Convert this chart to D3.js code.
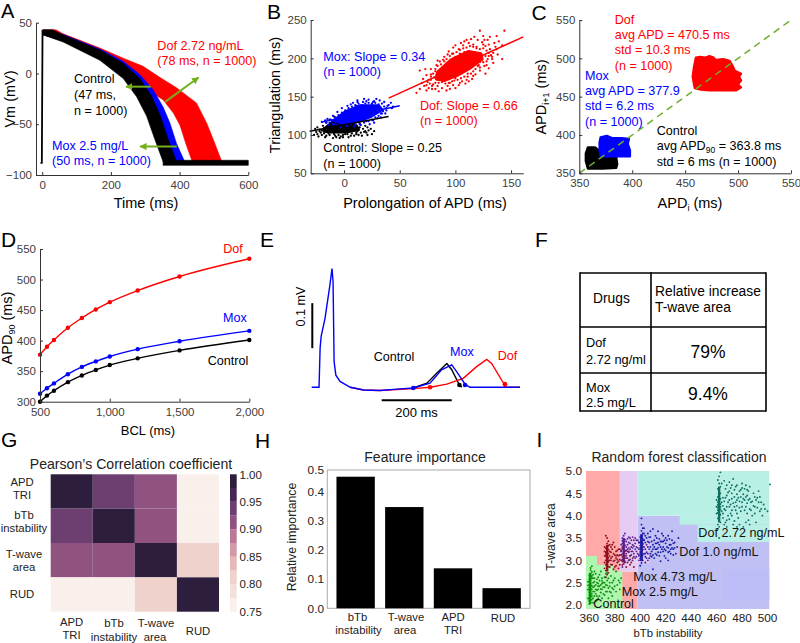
<!DOCTYPE html>
<html><head><meta charset="utf-8">
<script src="https://cdn.jsdelivr.net/npm/d3@7/dist/d3.min.js"></script>
<style>html,body{margin:0;padding:0;background:#fff}svg{display:block}text{font-family:"Liberation Sans",Arial,sans-serif}</style>
</head><body><svg id="c" width="800" height="643"></svg>
<script>
// ---------- Panel A (band edges: ms, mV)
const aDofUpper=[[3,43],[40,43],[61,39],[168,25],[236,15],[294,7],[343,-4],[391,-14],[449,-29],[479,-49],[498,-65],[523,-87]];
const aDofLower=[[438,-88],[420,-71],[401,-51],[382,-39],[352,-26],[300,-15],[200,10],[61,34],[3,38]];
const aMoxUpper=[[3,43],[61,38.5],[168,24],[236,12],[284,-1],[323,-16],[352,-33],[372,-49],[391,-69],[415,-87]];
const aMoxLower=[[370,-87],[352,-60],[323,-40],[284,-20],[236,0],[168,15],[61,32],[3,38]];
const aCtlUpper=[[3,43],[30,43],[61,38],[168,23],[236,10],[284,-5],[318,-22],[343,-41],[367,-65],[389,-85]];
const aCtlLower=[[352,-87],[328,-65],[304,-42],[275,-23],[236,-5],[168,13],[61,31],[3,38]];
const aBaseline=[[352,-85.5],[600,-85.5],[600,-90.5],[352,-90.5]];
const aUpstroke=[[-5,-88],[-1,-88],[1,43]];
const aArrows=[[316,-13,244,-13],[358,-28,455,-4],[392,-72,285,-72]];
// ---------- Panel B (prolongation ms, triangulation ms)
const bDofCore=[[84,182],[96,198],[112,209],[123,206],[124,199],[113,187],[102,178],[90,171],[83,173]];
const bMoxCore=[[-9,119],[1,130],[14,138],[31,138],[34,133],[24,124],[11,117],[-3,116]];
const bCtlCore=[[-18,108],[-9,118],[-1,117],[11,112],[13,107],[2,104],[-12,104],[-18,105]];
const bDofPts=[[144,236],[122,236],[114,225],[125,229],[131,228],[137,229],[129,224],[135,220],[142,217],[142,199],[134,194],[127,180],[130,187],[115,173],[109,167],[103,165],[95,160],[82,160],[76,161],[72,164],[65,155],[68,184],[73,186],[86,196],[94,209],[98,214],[107,217],[112,220],[119,215],[124,221],[127,216],[131,212],[134,207],[130,203],[124,198],[121,191],[118,179],[111,176],[106,170],[99,171],[93,164],[88,161],[84,164],[79,164],[76,172],[78,179],[83,191],[90,202],[97,206],[103,212],[110,224],[116,218],[121,206],[133,199],[138,205],[126,190],[122,184],[112,170],[100,161],[91,172],[71,173],[74,178],[81,175],[95,168],[105,180],[118,207],[128,196],[137,212],
 [78,176],[80,180],[82,186],[84,190],[87,192],[90,196],[92,199],[95,203],[98,206],[101,208],[104,211],[107,213],[110,214],[113,216],[116,215],[119,213],[122,212],[125,213],[128,210],[130,207],[132,204],[129,199],[127,203],[125,195],[122,195],[120,190],[118,186],[116,183],[114,180],[111,180],[108,176],[105,174],[102,172],[100,174],[97,170],[94,168],[91,167],[88,169],[85,168],[82,168],[80,166],[77,167],[75,169],[78,172],[83,178],[86,182],[89,187],[92,191],[96,197],[100,202],[104,206],[108,208],[112,209],[116,207],[120,203],[123,201],[84,172],[87,176],[92,178],[96,182],[100,186],[104,190],[108,194],[74,165],[79,160],[85,157],[92,158],[98,165],[104,168],[110,172],[116,177],[122,188],[128,191],[133,202],[136,215],[126,224],[120,224],[105,220],[100,217],[93,205],[89,198],[84,197],[78,186],[70,168],[74,158],[68,160],[82,183],[108,222],[117,228],[130,218],[139,222],[125,218]];
const bMoxPts=[[-20,117],[-15,121],[-10,125],[-6,130],[-2,135],[3,138],[8,142],[12,145],[17,143],[22,146],[27,144],[32,145],[36,143],[39,138],[42,142],[38,132],[34,128],[30,122],[26,119],[20,118],[15,113],[9,111],[3,112],[-3,110],[-9,114],[-14,113],[6,140],[25,139],[43,135],[29,147],[18,147],[11,138],[-17,119],[-8,120],
 [-16,116],[-12,120],[-8,123],[-5,126],[-2,129],[1,132],[4,135],[7,137],[10,139],[13,141],[16,139],[19,141],[22,142],[25,141],[28,142],[31,140],[34,141],[36,137],[38,135],[35,131],[33,128],[31,125],[28,123],[25,120],[22,118],[18,116],[14,114],[10,113],[6,114],[2,112],[-2,113],[-6,113],[-10,114],[-13,116],[3,128],[5,132],[24,135],[29,131],[-4,120],[-1,124],[9,133],[15,136],[30,137],[40,139],[44,137],[37,128],[33,123],[27,116],[23,114],[-7,117],[-11,118],[12,143],[20,144],[26,143]];
const bCtlPts=[[-24,101],[-22,107],[-19,112],[-16,116],[-13,120],[-9,124],[-5,122],[-1,122],[4,118],[9,116],[14,115],[19,112],[18,104],[22,106],[25,101],[21,100],[16,99],[11,101],[6,99],[1,101],[-3,98],[-8,99],[-13,100],[-17,97],[-10,96],[-21,103],[-26,108],[-18,105],[27,105],[12,105],[-4,96],[-24,110],
 [-20,106],[-18,109],[-15,112],[-12,115],[-9,118],[-6,120],[-3,118],[0,117],[3,115],[6,112],[10,111],[14,110],[17,108],[19,105],[15,103],[11,103],[7,102],[3,101],[-1,100],[-5,100],[-9,101],[-14,102],[-18,102],[-22,105],[-20,100],[-23,98],[-16,99],[-7,97],[-1,97],[4,97],[9,99],[13,100],[20,103],[24,108],[21,110],[-25,104],[-27,100]];
const bLines=[{x0:40,y0:148,x1:161,y1:228,c:"#ff0000"},{x0:-20,y0:117,x1:50,y1:138,c:"#0000ff"},{x0:-31,y0:105,x1:40,y1:124,c:"#000000"}];
// ---------- Panel C (APDi, APDi+1 ms)
const cDofBlob=[[460,501],[464,502],[469,501],[473,503],[477,501],[479,498],[486,499],[492,497],[495,490],[497,484],[503,480],[501,476],[503,471],[500,466],[503,462],[498,458],[492,458],[482,458],[473,458],[465,459],[459,461],[458,468],[457,476],[458,487]];
const cMoxBlob=[[370,397],[376,399],[381,396],[390,396],[397,395],[396,388],[398,380],[398,372],[391,372],[379,372],[370,372],[369,380],[369,390]];
const cCtlBlob=[[358,384],[365,384],[370,378],[378,372],[385,371],[386,362],[385,357],[372,356],[358,356],[356,366],[356,376]];
const cDiagonal=[[350,350],[550,550]];
// ---------- Panel D
const bcl=[500,550,600,700,800,900,1000,1200,1500,2000];
const dDof=[377,390,401,421,437,451,463,482,505,534];
const dMox=[313,322,330,345,357,366,374,386,399,416];
const dCtl=[300,310,318,332,343,352,360,371,384,401];
// ---------- Panel E (ms, mV)
const eMox=[[0,0],[21,0],[24,.087],[27,.113],[38,.153],[52,.227],[58,.264],[61,.235],[64,.057],[69,.027],[81,.013],[110,0],[148,-.006],[195,-.007],[243,-.004],[290,-.0015],[338,.009],[371,.039],[400,.05],[414,.035],[438,.007],[452,0],[595,0]];
const eCtl=[[290,-.0015],[329,.009],[357,.031],[386,.053],[400,.039],[422,.005],[429,0]];
const eDof=[[110,0],[148,-.006],[195,-.007],[290,-.003],[338,0],[386,.007],[433,.02],[471,.046],[500,.062],[514,.053],[548,.009],[552,0],[595,0]];
const eMarkers=[{t:338,v:0,c:"#ff0000"},{t:552,v:.007,c:"#ff0000"},{t:422,v:.005,c:"#000000"},{t:290,v:-.0015,c:"#0000ff"},{t:438,v:.005,c:"#0000ff"}];
// ---------- Panel G
const features=["APD TRI","bTb instability","T-wave area","RUD"];
const corr=[[1,.935,.905,.76],[.935,1,.905,.76],[.905,.905,1,.81],[.76,.76,.81,1]];
const bands=["#faf0eb","#f4e0da","#eed2cb","#e6b8b7","#d399a6","#b87896","#8f5281","#6d3f70","#462657","#2d1e3e"];
// ---------- Panel H
const hFeatures=["bTb instability","T-wave area","APD TRI","RUD"];
const hValues=[.451,.347,.137,.069];
// ---------- Panel I
const iRegions=[
 {x0:357.4,x1:384,y0:1.91,y1:5,c:"#ffa9a9"},{x0:384,x1:398,y0:1.91,y1:2.75,c:"#ffa9a9"},
 {x0:398,x1:501.4,y0:1.91,y1:4.0,c:"#c0c0f5"},{x0:465,x1:501.4,y0:2.1,y1:2.8,c:"#bcbcf6"},
 {x0:398,x1:501.4,y0:4.0,y1:5,c:"#b9f0e6"},{x0:431,x1:501.4,y0:3.8,y1:4.0,c:"#b9f0e6"},{x0:445,x1:501.4,y0:3.41,y1:3.8,c:"#b9f0e6"},
 {x0:384,x1:398,y0:2.75,y1:5,c:"#e6ccf2"},{x0:398,x1:407,y0:2.93,y1:3.45,c:"#e6ccf2"},
 {x0:357.4,x1:366,y0:1.91,y1:3.1,c:"#b0f5b0"},{x0:366,x1:379,y0:1.91,y1:2.9,c:"#b0f5b0"},{x0:379,x1:386,y0:1.91,y1:2.75,c:"#b0f5b0"}];
const iStems=[{x:360.6,y0:2.02,y1:2.72,c:"#0a8f0a",w:2.4},{x:374,y0:2.75,y1:3.35,c:"#8f1020",w:2.4},{x:387,y0:2.95,y1:3.5,c:"#5b1e8e",w:2.4},{x:401,y0:2.98,y1:3.58,c:"#1c1ca5",w:2.8},{x:462,y0:3.85,y1:4.65,c:"#0f7060",w:2.4}];
const iCtl=[[360,2.02],[361,2.05],[360,2.09],[362,2.12],[359,2.15],[361,2.18],[360,2.22],[362,2.25],[360,2.28],[361,2.31],[359,2.34],[361,2.37],[360,2.4],[362,2.43],[360,2.46],[361,2.49],[359,2.52],[361,2.55],[360,2.58],[362,2.6],[361,2.63],[360,2.66],[361,2.7],[362,2.74],[361,2.78],[361,2.83],[362,2.87],[360,2.12],[361,2.27],[360,2.36],[359,2.44],[361,2.47],[360,2.53],[362,2.35],[361,2.42],[363,2.3],[362,2.2],[363,2.5],[364,2.3],[366,2.5],[368,2.2],[370,2.6],[365,2.7],[372,2.4],[374,2.55],[376,2.3],[378,2.5],[380,2.6],[382,2.45],[384,2.35],[367,2.35],[369,2.45],[371,2.25],[373,2.7],[375,2.15],[377,2.65],[379,2.35],[381,2.75],[363,2.15],[365,2.45],[367,2.62],[369,2.75],[371,2.5],[364,2.6],[366,2.1],[368,2.55],[370,2.35],[372,2.62],[374,2.3],[376,2.5],[378,2.2],[380,2.42],[383,2.55],[365,2.25],[367,2.42],[363,2.4],[364,2.52],[366,2.33],[369,2.28],[373,2.45],[375,2.38],[370,2.48],[385,2.6],
 [364,2.42],[365,2.35],[366,2.58],[367,2.48],[368,2.42],[369,2.36],[370,2.54],[371,2.4],[372,2.5],[373,2.3],[374,2.44],[375,2.6],[376,2.42],[377,2.28],[378,2.38],[363,2.6],[364,2.2],[365,2.08],[366,2.2],[367,2.15],[368,2.68],[370,2.15],[372,2.22],[374,2.72],[363,2.68],[364,2.75],[379,2.55],[381,2.3],[384,2.5],[362,2.65],[363,2.05]];
const iMox25=[[373,2.62],[374,2.68],[375,2.72],[373,2.77],[374,2.82],[375,2.86],[373,2.9],[374,2.94],[375,2.97],[373,3.0],[374,3.03],[375,3.06],[373,3.09],[374,3.12],[375,3.15],[373,3.18],[374,3.21],[375,3.24],[373,3.27],[374,3.3],[375,3.33],[374,3.38],[375,3.43],[374,3.5],[373,3.55],[372,3.1],[376,3.0],[376,3.2],[372,2.95],[376,3.1],[372,3.2],[374,3.07],[375,3.0],[373,3.14],[377,3.05],[378,2.9],[379,3.15],[380,3.0],[381,3.2],[382,2.95],[383,3.1],[384,3.25],[385,3.0],[386,2.9],[387,3.15],[388,3.05],[389,2.85],[390,3.2],[391,3.0],[392,3.1],[393,2.95],[394,3.05],[395,2.85],[378,3.25],[380,3.3],[382,3.12],[384,3.02],[379,2.8],[381,2.88],[383,2.82],[385,3.12],[377,3.3],[386,3.3],[388,2.95],[391,3.2],[389,3.1],
 [377,3.0],[377,3.18],[378,3.08],[378,3.35],[379,2.98],[380,3.12],[380,2.85],[381,3.05],[382,3.22],[383,2.98],[383,3.25],[384,3.12],[385,3.22],[386,3.08],[376,2.85],[376,3.35],[372,2.82],[372,3.3],[386,2.98],[387,3.02],[388,3.2],[390,2.95],[392,2.9],[379,3.4],[381,3.1],[382,3.02],[384,2.9],[377,2.9]];
const iMox47=[[386,2.85],[387,2.92],[388,2.98],[386,3.02],[387,3.06],[388,3.1],[386,3.14],[387,3.18],[388,3.22],[386,3.26],[387,3.3],[388,3.34],[386,3.38],[387,3.42],[388,3.46],[386,3.5],[387,3.55],[388,3.6],[385,3.2],[389,3.3],[385,3.35],[389,3.15],[387,3.24],[386,3.44],[390,3.25],[391,3.4],[392,3.1],[393,3.3],[394,3.2],[395,3.45],[396,3.05],[397,3.3],[398,3.15],[399,3.4],[400,3.2],[401,3.05],[402,3.3],[403,3.45],[404,3.15],[405,3.35],[406,3.0],[407,3.25],[408,3.1],[391,3.0],[393,3.45],[395,3.15],[397,3.45],[399,3.0],[394,3.35],[396,3.25],[392,3.25],[390,3.05],
 [389,3.42],[390,3.35],[391,3.18],[392,3.38],[393,3.12],[394,3.28],[395,3.32],[396,3.38],[397,3.2],[398,3.28],[399,3.12],[390,3.48],[392,3.5],[394,3.52],[396,3.5],[398,3.45],[393,3.2],[391,3.28],[389,3.22],[395,3.08],[397,3.08],[389,3.05],[392,3.02],[394,3.0],[391,3.52]];
const iDof1=[[400,2.88],[401,2.94],[402,3.0],[400,3.04],[401,3.08],[402,3.12],[400,3.16],[401,3.2],[402,3.24],[400,3.28],[401,3.32],[402,3.36],[400,3.4],[401,3.44],[402,3.48],[400,3.52],[401,3.56],[402,3.6],[401,3.66],[402,3.72],[401,3.8],[401,3.94],[399,3.25],[403,3.3],[399,3.4],[403,3.15],[403,3.45],[399,3.1],[401,3.27],[402,3.38],[400,3.33],[404,3.25],[405,3.5],[406,3.15],[407,3.4],[408,3.65],[409,3.2],[410,3.35],[411,3.05],[412,3.55],[413,3.25],[414,3.4],[415,3.1],[416,3.3],[417,3.6],[418,3.2],[419,3.45],[420,3.05],[421,3.3],[422,3.55],[423,3.2],[424,3.35],[425,3.65],[426,3.25],[427,3.4],[428,3.15],[429,3.3],[430,3.5],[406,3.6],[410,3.7],[414,3.65],[416,2.98],[419,3.1],[422,3.0],[412,3.15],[408,3.3],[415,3.35],[420,3.38],[424,3.15],[427,3.28],[404,2.95],[407,3.05],[410,2.8],[417,3.42],[411,3.45],[413,3.5],[425,3.45],[418,3.3],
 [404,3.4],[405,3.18],[406,3.3],[407,3.52],[408,3.15],[409,3.42],[410,3.12],[411,3.3],[412,3.38],[413,3.12],[414,3.28],[415,3.48],[416,3.18],[417,3.25],[418,3.42],[419,3.25],[420,3.22],[421,3.45],[422,3.28],[423,3.35],[424,3.25],[425,3.28],[426,3.38],[404,3.55],[406,3.42],[408,3.52],[410,3.25],[412,3.25],[414,3.18],[416,3.42],[418,3.55],[420,3.5],[422,3.18],[405,3.05],[403,3.6],[403,3.72],[404,3.08],[409,3.08],[413,3.38],[426,3.12],[423,3.48]];
const iDof272=[[461,3.7],[462,3.75],[461,3.8],[463,3.85],[462,3.9],[461,3.94],[462,3.98],[463,4.02],[461,4.06],[462,4.1],[463,4.14],[461,4.18],[462,4.22],[463,4.26],[461,4.3],[462,4.34],[463,4.38],[461,4.42],[462,4.46],[463,4.5],[462,4.55],[461,4.6],[463,4.65],[462,4.72],[461,4.8],[462,4.88],[463,4.97],[460,4.2],[464,4.3],[460,4.35],[464,4.1],[460,4.05],[462,4.28],[461,4.24],[462,4.4],[463,4.2],[461,4.12],[462,3.5],[465,4.4],[466,4.15],[467,4.6],[468,3.9],[469,4.3],[470,4.75],[471,4.05],[472,4.5],[473,3.8],[474,4.2],[475,4.65],[476,4.35],[477,3.95],[478,4.55],[479,4.1],[480,4.3],[481,3.75],[482,4.6],[483,4.2],[484,4.45],[485,3.9],[486,4.65],[487,4.3],[488,4.0],[489,4.5],[490,4.2],[491,3.85],[492,4.4],[493,4.55],[494,4.1],[495,4.3],[496,4.0],[497,4.25],[498,4.15],[500,4.1],[502,4.7],[474,4.42],[476,4.05],[478,4.32],[480,4.62],[482,4.35],[484,4.05],[468,4.45],[470,4.2],[472,4.68],[466,3.8],[468,3.75],[473,4.82],[480,4.72],[486,4.15],[490,4.42],[478,3.8],[470,4.55],[475,4.3],
 [465,4.22],[465,4.05],[466,4.32],[467,4.12],[467,4.4],[468,4.2],[469,4.0],[469,4.52],[470,4.35],[471,4.25],[472,4.38],[472,4.12],[473,4.28],[474,4.58],[475,4.12],[476,4.22],[476,4.48],[477,4.4],[478,4.18],[479,4.42],[479,4.58],[480,4.2],[481,4.38],[481,4.48],[482,4.12],[483,4.42],[484,4.28],[484,4.58],[485,4.35],[486,4.38],[487,4.12],[488,4.32],[489,4.22],[490,4.05],[491,4.35],[492,4.18],[493,4.3],[494,4.42],[495,4.15],[465,3.95],[467,3.85],[470,3.92],[472,4.0],[474,3.88],[476,3.75],[483,3.85],[486,3.8],[464,4.72],[466,4.78],[468,4.68],[471,4.62],[476,4.68],[483,4.68],[485,4.55]];
// ---------- Text lists
const tA=[["Dof 2.72 ng/mL",157.3,49.5,"#f00"],["(78 ms, n = 1000)",157.3,65,"#f00"],["Control",74,83,"#000"],["(47 ms,",74,99,"#000"],["n = 1000)",74,114.5,"#000"],["Mox 2.5 mg/L",52,149.5,"#00f"],["(50 ms, n = 1000)",52,164.5,"#00f"]];
const tB=[["Mox: Slope = 0.34",323.3,60.5,"#00f"],["(n = 1000)",323.3,75.5,"#00f"],["Dof: Slope = 0.66",420,109.5,"#f00"],["(n = 1000)",420,124.5,"#f00"],["Control: Slope = 0.25",323.3,152,"#000"],["(n = 1000)",323.3,167.5,"#000"]];
const tC=[["Dof",614.7,23.5,"#f00"],["avg APD = 470.5 ms",614.7,38.8,"#f00"],["std = 10.3 ms",614.7,53.8,"#f00"],["(n = 1000)",614.7,69.5,"#f00"],["Mox",585,80.2,"#00f"],["avg APD = 377.9",585,94.5,"#00f"],["std = 6.2 ms",585,110.2,"#00f"],["(n = 1000)",585,125.5,"#00f"],["Control",656.7,135.2,"#000"],["std = 6 ms  (n = 1000)",656.7,165.5,"#000"]];
const letters=[["A",1,18.3,20],["B",267,19,21],["C",531.5,20,21],["D",1,247,21],["E",260,247,21],["F",535,247,21],["G",1,447,21],["H",255,448,21],["I",536.5,447,21]];

const svg=d3.select("#c");
const FS=12.6, TICK="#404040";
function tx(x,y,s,o={}){return svg.append("text").attr("x",x).attr("y",y).text(s).attr("font-size",o.fs||FS).attr("fill",o.c||"#000").attr("text-anchor",o.a||"start");}
function rot(x,y,s,o={}){return svg.append("text").attr("transform",`translate(${x},${y}) rotate(-90)`).text(s).attr("font-size",o.fs||14.5).attr("fill",o.c||"#000").attr("text-anchor","middle");}
function styleAxis(g,fs){g.select(".domain").attr("stroke","#333").attr("stroke-width",1);g.selectAll(".tick line").attr("stroke","#333");g.selectAll("text").attr("font-size",fs||11.5).attr("fill",TICK).attr("font-family",'"Liberation Sans",Arial,sans-serif');}
function axes(x,y,xt,yt,px,py){
 styleAxis(svg.append("g").attr("transform",`translate(0,${py})`).call(d3.axisBottom(x).tickValues(xt).tickSizeInner(-3).tickSizeOuter(0).tickPadding(6)));
 styleAxis(svg.append("g").attr("transform",`translate(${px},0)`).call(d3.axisLeft(y).tickValues(yt).tickSizeInner(-3).tickSizeOuter(0).tickPadding(4)));
}
const poly=(x,y)=>d3.line().x(d=>x(d[0])).y(d=>y(d[1]));
letters.forEach(l=>tx(l[1],l[2],l[0],{fs:l[3]}));
svg.append("defs").append("marker").attr("id","ah").attr("viewBox","0 0 10 10").attr("refX",9).attr("refY",5).attr("markerWidth",3.6).attr("markerHeight",3.6).attr("orient","auto").append("path").attr("d","M0,0L10,5L0,10Z").attr("fill","#74b01c");

// ===== A
{const x=d3.scaleLinear([-18,600],[36,248.3]),y=d3.scaleLinear([-100,50],[175,22.7]),l=poly(x,y);
 const band=(u,w,c)=>svg.append("path").attr("d",l(u.concat(w))+"Z").attr("fill",c).attr("stroke",c).attr("stroke-width",.6);
 band(aDofUpper,aDofLower,"#ff0000");band(aMoxUpper,aMoxLower,"#0000ff");band(aCtlUpper,aCtlLower,"#000");band(aBaseline,[],"#000");
 svg.append("path").attr("d",l(aUpstroke)).attr("fill","none").attr("stroke","#000").attr("stroke-width",1.8);
 axes(x,y,[0,200,400,600],[-100,-50,0,50],36,175);
 svg.selectAll(null).data(aArrows).join("line").attr("x1",d=>x(d[0])).attr("y1",d=>y(d[1])).attr("x2",d=>x(d[2])).attr("y2",d=>y(d[3])).attr("stroke","#74b01c").attr("stroke-width",2).attr("marker-end","url(#ah)");
 tA.forEach(t=>tx(t[1],t[2],t[0],{c:t[3]}));
 tx(146,208,"Time (ms)",{fs:14.5,a:"middle"});rot(15,99,"Vm (mV)");
}
// ===== B
{const x=d3.scaleLinear([-30,161],[310.7,523.3]),y=d3.scaleLinear([50,250],[173.3,20]),l=poly(x,y);
 const cloud=(core,pts,c)=>{svg.append("path").attr("d",l(core)+"Z").attr("fill",c).attr("stroke",c).attr("stroke-width",3).attr("stroke-linejoin","round");
  svg.selectAll(null).data(pts).join("circle").attr("cx",d=>x(d[0])).attr("cy",d=>y(d[1])).attr("r",1.15).attr("fill",c);};
 cloud(bCtlCore,bCtlPts,"#000");cloud(bMoxCore,bMoxPts,"#0000ff");cloud(bDofCore,bDofPts,"#ff0000");
 svg.selectAll(null).data(bLines).join("line").attr("x1",d=>x(d.x0)).attr("y1",d=>y(d.y0)).attr("x2",d=>x(d.x1)).attr("y2",d=>y(d.y1)).attr("stroke",d=>d.c).attr("stroke-width",1.5);
 axes(x,y,[0,50,100,150],[50,100,150,200,250],310.7,173.3);
 tB.forEach(t=>tx(t[1],t[2],t[0],{c:t[3]}));
 tx(425,208,"Prolongation of APD (ms)",{fs:14.5,a:"middle"});rot(280,95,"Triangulation (ms)");
}
// ===== C
{const x=d3.scaleLinear([350,550],[579.3,791]),y=d3.scaleLinear([350,550],[173.3,20]),l=poly(x,y);
 [[cCtlBlob,"#000"],[cMoxBlob,"#0000ff"],[cDofBlob,"#ff0000"]].forEach(b=>svg.append("path").attr("d",l(b[0])+"Z").attr("fill",b[1]).attr("stroke",b[1]).attr("stroke-width",2).attr("stroke-linejoin","round"));
 svg.append("path").attr("d",l(cDiagonal)).attr("stroke","#6fae2e").attr("stroke-width",1.5).attr("stroke-dasharray","7 5").attr("fill","none");
 axes(x,y,[350,400,450,500,550],[350,400,450,500,550],579.3,173.3);
 tC.forEach(t=>tx(t[1],t[2],t[0],{c:t[3]}));
 const t=tx(656.7,150.2,"avg APD");t.append("tspan").attr("font-size",8.5).attr("dy",3).text("90");t.append("tspan").attr("dy",-3).text(" = 363.8 ms");
 const a=tx(690,208,"APD",{fs:14.5,a:"middle"});a.append("tspan").attr("font-size",9).attr("dy",3).text("i");a.append("tspan").attr("dy",-3).text(" (ms)");
 const b=rot(546,97,"APD");b.append("tspan").attr("font-size",9).attr("dy",3).text("i+1");b.append("tspan").attr("dy",-3).text(" (ms)");
}
// ===== D
{const x=d3.scaleLinear([500,2000],[40,249.3]),y=d3.scaleLinear([300,550],[401.7,249]);
 const ln=d3.line().x((d,i)=>x(bcl[i])).y(d=>y(d)).curve(d3.curveMonotoneX);
 [[dCtl,"#000"],[dMox,"#0000ff"],[dDof,"#ff0000"]].forEach(s=>{svg.append("path").attr("d",ln(s[0])).attr("fill","none").attr("stroke",s[1]).attr("stroke-width",1.4);
  svg.selectAll(null).data(s[0]).join("circle").attr("cx",(d,i)=>x(bcl[i])).attr("cy",d=>y(d)).attr("r",2.2).attr("fill",s[1]);});
 axes(x,y,[500,1000,1500,2000],[300,350,400,450,500,550],40,401.7);
 tx(233,253,"Dof",{c:"#f00",a:"middle"});tx(235,322,"Mox",{c:"#00f",a:"middle"});tx(228,364.5,"Control",{a:"middle"});
 tx(148,434.5,"BCL (ms)",{fs:13,a:"middle"});
 const a=rot(12,328,"APD");a.append("tspan").attr("font-size",9).attr("dy",3).text("90");a.append("tspan").attr("dy",-3).text(" (ms)");
}
// ===== E
{const x=d3.scaleLinear([0,595],[311.7,520]),y=d3.scaleLinear([0,.1],[387.3,342.3]),l=poly(x,y).curve(d3.curveLinear);
 [[eCtl,"#000"],[eDof,"#ff0000"],[eMox,"#0000ff"]].forEach(s=>svg.append("path").attr("d",l(s[0])).attr("fill","none").attr("stroke",s[1]).attr("stroke-width",1.4));
 svg.selectAll(null).data(eMarkers).join("circle").attr("cx",d=>x(d.t)).attr("cy",d=>y(d.v)).attr("r",2.3).attr("fill",d=>d.c);
 svg.append("line").attr("x1",x(200)).attr("x2",x(400)).attr("y1",400.3).attr("y2",400.3).attr("stroke","#000").attr("stroke-width",2);
 svg.append("line").attr("x1",312.3).attr("x2",312.3).attr("y1",y(.187)).attr("y2",y(.087)).attr("stroke","#000").attr("stroke-width",2);
 rot(305,306.5,"0.1 mV",{fs:12.6});
 tx(394,361,"Control",{a:"middle"});tx(462,356,"Mox",{c:"#00f",a:"middle"});tx(507.5,359.5,"Dof",{c:"#f00",a:"middle"});
 tx(416.5,417,"200 ms",{a:"middle",fs:13});
}
// ===== F
{const xs=[580,651,766],ys=[273,327,373,411];
 xs.forEach(v=>svg.append("line").attr("x1",v).attr("x2",v).attr("y1",ys[0]-.8).attr("y2",ys[3]+.8).attr("stroke","#000").attr("stroke-width",1.6));
 ys.forEach(v=>svg.append("line").attr("x1",xs[0]).attr("x2",xs[2]).attr("y1",v).attr("y2",v).attr("stroke","#000").attr("stroke-width",1.6));
 const F=13.8,G=12.8;
 tx(593,303,"Drugs",{fs:F});tx(655,296,"Relative increase",{fs:F});tx(655,312,"T-wave area",{fs:F});
 tx(586,347,"Dof",{fs:G});tx(586,364,"2.72 ng/ml",{fs:G});tx(586,392,"Mox",{fs:G});tx(586,407,"2.5 mg/L",{fs:G});
 tx(708,358,"79%",{a:"middle",fs:17.5});tx(708,400,"9.4%",{a:"middle",fs:17.5});
}
// ===== G
{const x=d3.scaleBand(features,[50.7,219]),y=d3.scaleBand(features,[474.3,611.7]),col=d3.scaleQuantize([.75,1],bands);
 corr.forEach((r,i)=>r.forEach((v,j)=>svg.append("rect").attr("x",x(features[j])).attr("y",y(features[i])).attr("width",x.bandwidth()).attr("height",y.bandwidth()).attr("fill",col(v))));
 const cb=d3.scaleLinear([.75,1],[611.7,474.3]);
 bands.forEach((c,i)=>svg.append("rect").attr("x",230).attr("width",6.7).attr("y",cb(.75+(i+1)*.025)).attr("height",cb(.75)-cb(.775)).attr("fill",c));
 [.75,.8,.85,.9,.95,1].forEach(v=>tx(239.5,cb(v)+4.2,v.toFixed(2),{fs:11.5,c:"#222"}));
 const F=11.3,C="#222";
 [[22,486,"APD"],[22,499,"TRI"],[24,519,"bTb"],[24,532,"instability"],[24,558,"T-wave"],[24,571,"area"],[22,598,"RUD"]].forEach(t=>tx(t[0],t[1],t[2],{fs:F,a:"middle",c:C}));
 [[71.5,626,"APD"],[71.5,639,"TRI"],[114,627,"bTb"],[114,641,"instability"],[156,627,"T-wave"],[155,641,"area"],[198,635,"RUD"]].forEach(t=>tx(t[0],t[1],t[2],{fs:F,a:"middle",c:C}));
 tx(131,469,"Pearson\u2019s Correlation coefficient",{fs:14.1,a:"middle",c:"#222"});
}
// ===== H
{const x=d3.scaleBand(hFeatures,[331.3,526]).paddingInner(.212).paddingOuter(.106),y=d3.scaleLinear([0,.474],[608.3,470]);
 svg.append("rect").attr("x",327.3).attr("y",470).attr("width",202.7).attr("height",138.3).attr("fill","none").attr("stroke","#aaa");
 svg.selectAll(null).data(hValues).join("rect").attr("x",(d,i)=>x(hFeatures[i])).attr("width",x.bandwidth()).attr("y",d=>y(d)).attr("height",d=>y(0)-y(d)).attr("fill","#000");
 [0,.1,.2,.3,.4].forEach(v=>tx(324,y(v)+4.2,v.toFixed(1),{fs:11.8,a:"end",c:"#222"}));
 tx(324,473.5,"0.5",{fs:11.8,a:"end",c:"#222"});
 const C="#222",F=11.3;
 [[357.5,621,"bTb"],[358.5,634,"instability"],[406,621,"T-wave"],[405,634,"area"],[453,621,"APD"],[453,634,"TRI"],[503,622,"RUD"]].forEach(t=>tx(t[0],t[1],t[2],{fs:F,a:"middle",c:C}));
 tx(425,462,"Feature importance",{fs:14,a:"middle",c:"#222"});
 rot(296,537,"Relative importance",{fs:12.3,c:"#222"});
}
// ===== I
{const x=d3.scaleLinear([360,500],[589.3,767.5]),y=d3.scaleLinear([2,5],[605,471]);
 iRegions.forEach(r=>svg.append("rect").attr("x",x(r.x0)).attr("width",x(r.x1)-x(r.x0)).attr("y",y(r.y1)).attr("height",y(r.y0)-y(r.y1)).attr("fill",r.c));
 iStems.forEach(s=>svg.append("line").attr("x1",x(s.x)).attr("x2",x(s.x)).attr("y1",y(s.y0)).attr("y2",y(s.y1)).attr("stroke",s.c).attr("stroke-width",s.w));
 [[iCtl,"#0a8f0a"],[iMox25,"#8f1020"],[iMox47,"#5b1e8e"],[iDof1,"#1c1ca5"],[iDof272,"#0f7060"]].forEach(s=>svg.selectAll(null).data(s[0]).join("circle").attr("cx",d=>x(d[0])).attr("cy",d=>y(d[1])).attr("r",.95).attr("fill",s[1]));
 [360,380,400,420,440,460,480,500].forEach(v=>tx(x(v),622,v,{fs:11.8,a:"middle",c:"#222"}));
 [2,2.5,3,3.5,4,4.5,5].forEach(v=>tx(582,y(v)+4.2,v.toFixed(1),{fs:11.8,a:"end",c:"#222"}));
 [["Dof 2.72 ng/mL",698.3,536.5],["Dof 1.0 ng/mL",679.3,556],["Mox 4.73 mg/L",633.3,581],["Mox 2.5 mg/L",621.7,596],["Control",593.3,608]].forEach(t=>tx(t[1],t[2],t[0],{c:"#111"}));
 tx(679,462,"Random forest classification",{fs:14,a:"middle",c:"#222"});
 tx(668,637,"bTb instability",{fs:11.3,a:"middle",c:"#222"});
 rot(555,537,"T-wave area",{fs:12.3,c:"#222"});
}
</script></body></html>
